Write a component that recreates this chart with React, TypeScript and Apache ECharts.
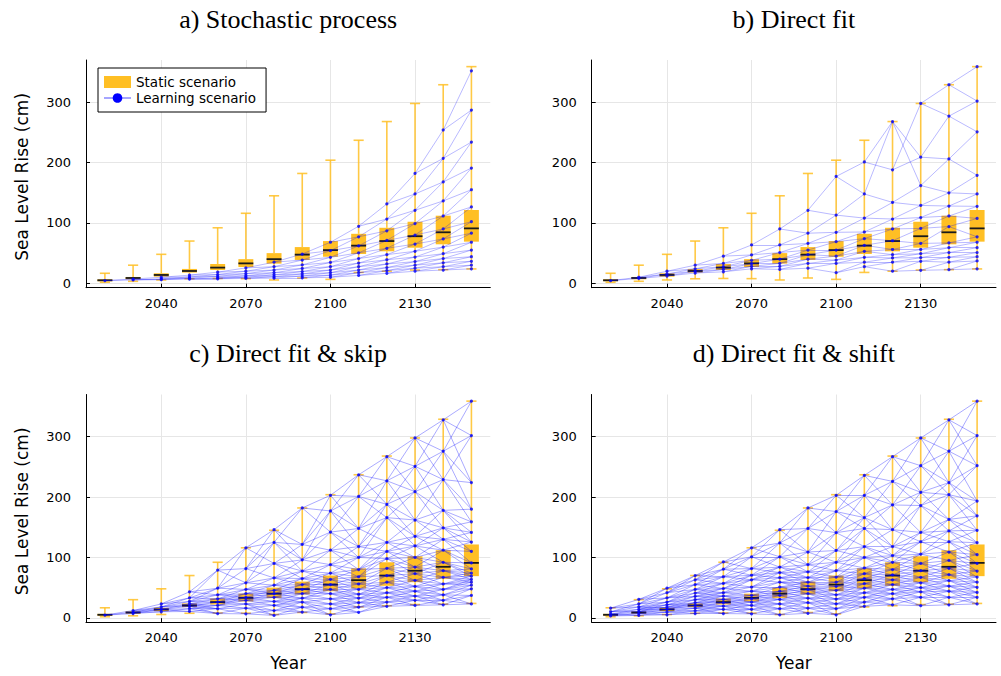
import React, { useEffect, useRef } from 'react';
import * as echarts from 'echarts';

// ---------- data ----------
const years = [2020, 2030, 2040, 2050, 2060, 2070, 2080, 2090, 2100, 2110, 2120, 2130, 2140, 2150];

const staticMin = [1.7, 3.3, 5.5, 7.5, 8, 7.7, 5.5, 8.8, 6.5, 18, 20, 22, 22.6, 23.8];
const staticQ1 = [3.3, 6.6, 11, 17.7, 22, 27, 32.6, 38.7, 44, 48.6, 53, 59, 64.6, 69];
const staticMedian = [5, 8.8, 13.8, 20.4, 26, 33, 40, 47.5, 55, 62.4, 70, 78, 84.5, 91];
const staticQ3 = [6.6, 10.5, 16.6, 23.8, 32, 40, 50, 60, 70, 82, 92, 102, 112, 121.5];
const staticMax = [16.6, 30, 48, 70, 92, 116, 145, 182, 204, 237, 268, 298, 329, 359];

// learning scenario node values per year (one array per year)
const learningA: number[][] = [
  [4.5],
  [7, 5.5],
  [10, 7.5, 6],
  [13.5, 10.5, 8.5, 7],
  [18.5, 14.5, 11.5, 9, 7.5],
  [25.5, 20, 16, 12.5, 10, 8],
  [35, 27.5, 22, 17.5, 14, 11, 8.5],
  [48.5, 38.5, 30.5, 24.5, 19.5, 15.5, 12, 9],
  [68, 54, 43, 34.5, 27.5, 22, 17.5, 13.5, 10],
  [94.5, 77, 62, 50.5, 41, 33.5, 27.5, 22, 17.5, 13],
  [131.5, 106.5, 87, 71, 58, 47.5, 39, 32, 26, 21, 16.5],
  [182, 148, 121, 99, 80, 65, 53, 43.5, 36, 30, 25, 20],
  [254, 207, 168, 136.5, 111.5, 90, 73.5, 60, 49, 41, 34, 27.5, 22],
  [352, 287, 234, 191, 155, 126.5, 102, 83, 68, 55, 44, 36.5, 30, 24],
];

const learningB: number[][] = [
  [4.4],
  [10, 8],
  [20, 15.5, 12],
  [30, 24, 20, 17],
  [45, 33, 27.5, 23, 19],
  [63.5, 47, 38, 32.5, 28, 24],
  [90, 63.5, 51, 40, 33, 28, 23],
  [121, 83, 66, 55, 47.5, 40, 33, 25],
  [177, 113, 84.5, 69, 55, 45, 38.5, 33, 17.5],
  [201, 148, 108, 85, 74, 63, 53, 43, 35, 27.5],
  [188, 268, 134, 106.5, 90, 70.5, 56, 47.5, 42, 35, 20],
  [298, 209, 162, 129, 109, 91, 66, 56, 49, 42.5, 36.5, 21.5],
  [329, 277, 206, 150, 128, 111.5, 94, 67, 59, 51, 43, 35, 22.5],
  [359, 302, 251, 179, 148, 127.5, 107.5, 77, 68, 59, 51, 44, 37, 24],
];

const learningC: number[][] = [
  [4.4],
  [12, 9, 7],
  [23, 18, 14, 10],
  [43, 33, 27, 23, 19, 15, 10.5],
  [79, 49, 38, 31.5, 26, 20.5, 15, 7],
  [116, 81.5, 58, 47, 40, 34, 29, 23, 16, 6.5],
  [146, 125, 90, 66, 54, 45.5, 40, 34, 27, 20.5, 12, 4],
  [182, 121.5, 96, 77.5, 65, 55, 47, 40, 32.5, 26, 17.5, 9.5],
  [203, 177, 142, 112, 88, 74, 63.5, 55, 47, 40, 31.5, 23, 15, 5],
  [237, 201, 148, 118, 100, 80, 68, 56, 47, 39, 32.5, 25, 17.5, 9],
  [267, 227, 188, 166, 125, 110, 98, 82, 70, 59, 50, 41.5, 34, 26, 19],
  [298, 251, 209, 162, 135, 119, 100, 84, 73, 62, 52, 44, 36, 29, 20.5],
  [328, 276, 229, 178, 149, 130, 112, 92, 78, 67, 56, 47, 38, 29, 21.5],
  [359, 302, 224, 180, 159, 141.5, 125.5, 110, 91, 81, 74, 69, 63.5, 59, 54, 48, 37, 23],
];

const learningD: number[][] = [
  [16, 10, 6, 3],
  [30.5, 23, 18, 14, 10.5, 7, 4],
  [49, 41.5, 33, 26, 21.5, 17.5, 14, 9.5, 5],
  [70, 63, 55, 47, 41, 35.5, 30, 25, 20.5, 16, 11.5, 7],
  [92.5, 80.5, 68, 57, 48.5, 41.5, 36, 30.5, 25, 19.5, 14, 7],
  [116, 101, 81.5, 70.5, 63, 51, 44, 37, 31.5, 26, 20.5, 14, 6.5],
  [146, 124, 101, 84, 75, 66.5, 59, 51, 44, 37, 30.5, 23, 15, 5],
  [182, 148, 109, 88, 76, 66.5, 59, 52.5, 46.5, 40, 32.5, 25, 16, 7.5],
  [203, 176, 141, 111.5, 92, 78, 67.5, 59, 52, 45.5, 38, 31, 23, 15, 5],
  [236, 203, 166, 148, 118, 100, 82.5, 73, 65, 56.5, 49, 41.5, 34, 26, 19],
  [267, 226, 187, 146, 118, 103, 92, 80, 71, 63, 55, 47, 40, 31.5, 21.5],
  [298, 252, 208, 186, 141.5, 126, 105.5, 90, 78, 67, 58, 50, 43, 34, 20],
  [328, 276, 224, 204, 163, 144, 126, 109, 95, 82, 71.5, 61.5, 52.5, 44, 34, 21.5],
  [359, 302, 252, 193.5, 169, 145, 124.5, 104.5, 90, 77.5, 67.5, 59, 50.5, 42, 34, 23],
];

const panelTitles = ['a) Stochastic process', 'b) Direct fit', 'c) Direct fit & skip', 'd) Direct fit & shift'];
const xTickValues = [2040, 2070, 2100, 2130];
const yTickValues = [0, 100, 200, 300];

// ---------- styling / layout ----------
const BOX_COLOR = '#FFBF24';
const BLUE = '#0000FF';
const SANS = '"DejaVu Sans", sans-serif';
const SERIF = '"Liberation Serif", "Times New Roman", serif';
const X_MIN = 2013.3;
const X_MAX = 2156.7;
const Y_MIN = -7.3;
const Y_MAX = 370;
const GRID_W = 404.3;
const GRID_H = 227.7;
const GRID_POS = [
  { left: 86, top: 60 },
  { left: 591.7, top: 60 },
  { left: 86, top: 394.5 },
  { left: 591.7, top: 394.5 },
];
const BOX_W = 5.3; // years
const CAP_W = 3.6; // years

type Mode = { kind: 'tree' | 'mesh'; offsets: number[]; opacity: number };
const panelModes: Mode[] = [
  { kind: 'tree', offsets: [0, 1], opacity: 0.35 },
  { kind: 'tree', offsets: [0, 1], opacity: 0.35 },
  { kind: 'mesh', offsets: [-1, 0, 1, 2], opacity: 0.42 },
  { kind: 'mesh', offsets: [-1, 0, 1, 2], opacity: 0.42 },
];
const panelLevels = [learningA, learningB, learningC, learningD];

function buildEdges(levels: number[][], mode: Mode) {
  const out: { coords: number[][] }[] = [];
  for (let k = 0; k < levels.length - 1; k++) {
    const a = levels[k];
    const b = levels[k + 1];
    for (let j = 0; j < a.length; j++) {
      const base = mode.kind === 'tree' ? j : Math.round((j * (b.length - 1)) / Math.max(a.length - 1, 1));
      const seen = new Set<number>();
      for (const o of mode.offsets) {
        const t = base + o;
        if (t < 0 || t >= b.length || seen.has(t)) continue;
        seen.add(t);
        out.push({ coords: [[years[k], a[j]], [years[k + 1], b[t]]] });
      }
    }
  }
  return out;
}

function buildPoints(levels: number[][]) {
  const out: number[][] = [];
  levels.forEach((lv, k) => lv.forEach((v) => out.push([years[k], v])));
  return out;
}

const boxData = years.map((y, i) => [y, staticMin[i], staticQ1[i], staticMedian[i], staticQ3[i], staticMax[i]]);

function renderBox(_params: any, api: any) {
  const x = api.value(0);
  const pMin = api.coord([x, api.value(1)]);
  const pQ1 = api.coord([x, api.value(2)]);
  const pMed = api.coord([x, api.value(3)]);
  const pQ3 = api.coord([x, api.value(4)]);
  const pMax = api.coord([x, api.value(5)]);
  const bw = api.size([BOX_W, 0])[0];
  const cw = api.size([CAP_W, 0])[0];
  const cx = pMed[0];
  const wStyle = { stroke: BOX_COLOR, lineWidth: 1.6, opacity: 0.85 };
  return {
    type: 'group',
    children: [
      { type: 'line', shape: { x1: cx, y1: pMin[1], x2: cx, y2: pQ1[1] }, style: wStyle },
      { type: 'line', shape: { x1: cx, y1: pQ3[1], x2: cx, y2: pMax[1] }, style: wStyle },
      { type: 'line', shape: { x1: cx - cw / 2, y1: pMin[1], x2: cx + cw / 2, y2: pMin[1] }, style: wStyle },
      { type: 'line', shape: { x1: cx - cw / 2, y1: pMax[1], x2: cx + cw / 2, y2: pMax[1] }, style: wStyle },
      {
        type: 'rect',
        shape: { x: cx - bw / 2, y: pQ3[1], width: bw, height: Math.max(pQ1[1] - pQ3[1], 1) },
        style: { fill: BOX_COLOR },
      },
      { type: 'line', shape: { x1: cx - bw / 2, y1: pMed[1], x2: cx + bw / 2, y2: pMed[1] }, style: { stroke: '#1a1a1a', lineWidth: 1.8 } },
    ],
  };
}

function buildOption() {
  const grid = GRID_POS.map((g) => ({ left: g.left, top: g.top, width: GRID_W, height: GRID_H, containLabel: false }));
  const axisLineStyle = { color: '#000', width: 1 };
  const xAxis = GRID_POS.map((_, i) => ({
    type: 'value',
    gridIndex: i,
    min: X_MIN,
    max: X_MAX,
    axisLine: { show: true, onZero: false, lineStyle: axisLineStyle },
    axisTick: { show: true, inside: true, length: 4, customValues: xTickValues, lineStyle: axisLineStyle },
    axisLabel: {
      customValues: xTickValues,
      formatter: (v: number) => String(Math.round(v)),
      fontSize: 13,
      fontFamily: SANS,
      color: '#000',
      margin: 9,
    },
    splitLine: { show: false },
  }));
  const yAxis = GRID_POS.map((_, i) => ({
    type: 'value',
    gridIndex: i,
    min: Y_MIN,
    max: Y_MAX,
    axisLine: { show: true, onZero: false, lineStyle: axisLineStyle },
    axisTick: { show: true, inside: true, length: 4, customValues: yTickValues, lineStyle: axisLineStyle },
    axisLabel: {
      customValues: yTickValues,
      formatter: (v: number) => String(Math.round(v)),
      fontSize: 13,
      fontFamily: SANS,
      color: '#000',
      margin: 15,
    },
    splitLine: { show: false },
  }));

  const gridLines = [
    ...xTickValues.map((v) => ({ xAxis: v })),
    ...yTickValues.map((v) => ({ yAxis: v })),
  ];

  const series: any[] = [];
  GRID_POS.forEach((_, i) => {
    series.push({
      type: 'custom',
      name: 'Static scenario',
      xAxisIndex: i,
      yAxisIndex: i,
      data: boxData,
      encode: { x: 0, y: [1, 2, 3, 4, 5] },
      renderItem: renderBox,
      itemStyle: { color: BOX_COLOR },
      silent: true,
      z: 1,
      markLine: {
        silent: true,
        z: 0,
        symbol: ['none', 'none'],
        label: { show: false },
        lineStyle: { color: '#e6e6e6', type: 'solid', width: 1 },
        emphasis: { disabled: true },
        data: gridLines,
      },
    });
    series.push({
      type: 'lines',
      name: 'lattice' + i,
      coordinateSystem: 'cartesian2d',
      xAxisIndex: i,
      yAxisIndex: i,
      polyline: false,
      large: false,
      silent: true,
      symbol: 'none',
      lineStyle: { color: BLUE, opacity: panelModes[i].opacity, width: 0.8, curveness: 0 },
      data: buildEdges(panelLevels[i], panelModes[i]),
      z: 2,
    });
    series.push({
      type: 'scatter',
      name: 'nodes' + i,
      xAxisIndex: i,
      yAxisIndex: i,
      symbol: 'circle',
      symbolSize: 3.2,
      itemStyle: { color: BLUE },
      silent: true,
      data: buildPoints(panelLevels[i]),
      z: 3,
    });
  });
  series.push({
    type: 'line',
    name: 'Learning scenario',
    xAxisIndex: 0,
    yAxisIndex: 0,
    data: [],
    symbol: 'circle',
    symbolSize: 7,
    itemStyle: { color: BLUE },
    lineStyle: { color: 'rgba(0,0,255,0.35)', width: 1 },
  });

  const centers = GRID_POS.map((g) => g.left + GRID_W / 2);
  const graphic: any[] = [];
  panelTitles.forEach((t, i) => {
    graphic.push({
      type: 'text',
      x: centers[i],
      y: GRID_POS[i].top - 41,
      style: {
        text: t,
        fill: '#000',
        font: '26px ' + SERIF,
        align: 'center',
        verticalAlign: 'middle',
        textAlign: 'center',
        textVerticalAlign: 'middle',
      },
    });
  });
  [0, 2].forEach((i) => {
    graphic.push({
      type: 'text',
      x: 22,
      y: GRID_POS[i].top + GRID_H / 2 + 3,
      rotation: Math.PI / 2,
      style: {
        text: 'Sea Level Rise (cm)',
        fill: '#000',
        font: '17px ' + SANS,
        align: 'center',
        verticalAlign: 'middle',
        textAlign: 'center',
        textVerticalAlign: 'middle',
      },
    });
  });
  [2, 3].forEach((i) => {
    graphic.push({
      type: 'text',
      x: centers[i],
      y: 663,
      style: {
        text: 'Year',
        fill: '#000',
        font: '17px ' + SANS,
        align: 'center',
        verticalAlign: 'middle',
        textAlign: 'center',
        textVerticalAlign: 'middle',
      },
    });
  });

  return {
    animation: false,
    backgroundColor: '#fff',
    grid,
    xAxis,
    yAxis,
    legend: {
      show: true,
      left: 98,
      top: 68,
      orient: 'vertical',
      itemWidth: 27,
      itemHeight: 12,
      itemGap: 2,
      padding: [7, 10, 7, 5],
      borderColor: '#000',
      borderWidth: 1,
      backgroundColor: '#fff',
      textStyle: { fontSize: 13.5, lineHeight: 14, fontFamily: SANS, color: '#000' },
      data: [
        { name: 'Static scenario', icon: 'rect', itemStyle: { color: BOX_COLOR } },
        { name: 'Learning scenario' },
      ],
      selectedMode: false,
    },
    graphic,
    series,
  };
}

export default function App() {
  const ref = useRef<HTMLDivElement>(null);
  useEffect(() => {
    if (!ref.current) return;
    const chart = echarts.init(ref.current, null, { renderer: 'svg' });
    chart.setOption(buildOption() as any);
    return () => chart.dispose();
  }, []);
  return (
    <div
      ref={ref}
      style={{ position: 'fixed', left: 0, top: 0, width: 1001, height: 676, background: '#fff' }}
    />
  );
}
